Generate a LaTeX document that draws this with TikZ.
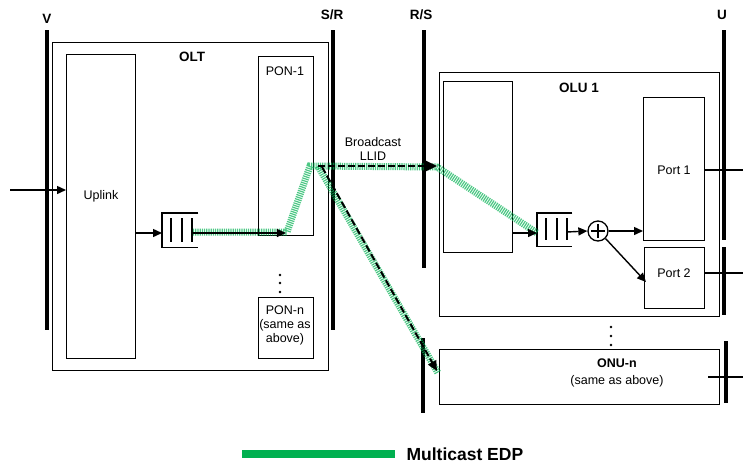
\documentclass[tikz,border=0pt]{standalone}
\usepackage{fontspec}
\setmainfont{Liberation Sans}
\usetikzlibrary{arrows.meta}
\definecolor{edpgreen}{RGB}{0,176,80}
\begin{document}
\begin{tikzpicture}[x=1pt,y=-1pt,font=\fontsize{12.5}{14}\selectfont,
  box/.style={draw,line width=0.9pt,inner sep=0pt,anchor=north west},
  bar/.style={line width=4pt},
  arr/.style={-{Triangle[length=9pt,width=8pt]},line width=1.4pt},
  dasharr/.style={line width=2pt,dash pattern=on 7pt off 3pt},
  edp/.style={draw=edpgreen,line width=7pt,opacity=0.7,dash pattern=on 1.2pt off 1pt},
  lbl/.style={font=\fontsize{13.5}{15}\selectfont\bfseries},
  dotmark/.style={fill=black,circle,inner sep=0pt,minimum size=2.6pt}]
\useasboundingbox (0,0) rectangle (743,464);

% reference bars
\draw[bar] (47,30) -- (47,330);
\node[lbl] (vlab) at (47,19) {V};
\draw[bar] (333,30) -- (333,330);
\node[lbl] (srlab) at (332,15) {S/R};
\draw[bar] (424,30) -- (424,268);
\node[lbl] (rslab) at (421,15) {R/S};
\draw[bar] (724,30) -- (724,240);
\draw[bar] (724,247) -- (724,315);
\draw[bar] (726,341) -- (726,403);
\node[lbl] (ulab) at (722,15) {U};
\draw[bar] (423,338) -- (423,413);

% OLT
\node[box,minimum width=276pt,minimum height=328pt] (olt) at (52,42) {};
\node[lbl] (oltlab) at (192,57) {OLT};
\node[box,minimum width=69pt,minimum height=304pt] (uplink) at (66,54) {};
\node (uplab) at (101,196) {Uplink};
\node[box,minimum width=55pt,minimum height=179pt] (pon1) at (258,56) {};
\node (pon1lab) at (285,71) {PON-1};
\node[box,minimum width=55pt,minimum height=61pt,align=center] (ponn) at (258,297) {};
\node[align=center,font=\fontsize{12.5}{14}\selectfont] (ponnlab) at (285,325) {PON-n\\(same as\\above)};
\node[dotmark] (d1) at (280,275) {};
\node[dotmark] (d2) at (280,283) {};
\node[dotmark] (d3) at (280,292) {};

% OLT queue
\node[inner sep=0pt,minimum width=36pt,minimum height=34pt,anchor=north west] (q1) at (162,213) {};
\draw[line width=1.1pt] (q1.north east) -- (q1.north west) -- (q1.south west) -- (q1.south east);
\draw[line width=1.5pt] (171,218) -- (171,242) (182,218) -- (182,242) (192,218) -- (192,242);

% OLU 1
\node[box,minimum width=280pt,minimum height=244pt] (olu) at (439,72) {};
\node[lbl] (olulab) at (579,88) {OLU 1};
\node[box,minimum width=69pt,minimum height=171pt] (olin) at (443,81) {};
\node[box,minimum width=61pt,minimum height=143pt] (port1) at (643,97) {};
\node (p1lab) at (674,170) {Port 1};
\node[box,minimum width=60pt,minimum height=61pt] (port2) at (644,247) {};
\node (p2lab) at (674,273) {Port 2};
\node[inner sep=0pt,minimum width=35pt,minimum height=33pt,anchor=north west] (q2) at (537,213) {};
\draw[line width=1.1pt] (q2.north east) -- (q2.north west) -- (q2.south west) -- (q2.south east);
\draw[line width=1.5pt] (546,218) -- (546,240) (557,218) -- (557,240) (567,218) -- (567,240);
\node[draw,circle,line width=1.3pt,minimum size=20pt,inner sep=0pt] (sum) at (598,231) {};
\draw[line width=1.3pt] (591,231) -- (605,231) (598,224) -- (598,238);

% ONU-n
\node[box,minimum width=280pt,minimum height=55pt] (onun) at (439,349) {};
\node[lbl,font=\fontsize{12.5}{14}\selectfont\bfseries] (onulab) at (617,363) {ONU-n};
\node (onusub) at (617,381) {(same as above)};
\node[dotmark] (e1) at (611,327) {};
\node[dotmark] (e2) at (611,336) {};
\node[dotmark] (e3) at (611,345) {};

% port lines
\coordinate (p1end) at (743,170);
\coordinate (p2end) at (743,273);
\coordinate (onend) at (743,377);
\draw[line width=1.3pt] (port1.east |- p1end) -- (p1end);
\draw[line width=1.3pt] (port2.east |- p2end) -- (p2end);
\draw[line width=1.3pt] (708,377) -- (onend);

% multicast EDP band
\coordinate (g0) at (193,232);
\coordinate (g1) at (287,232);
\coordinate (g2) at (310,166);
\coordinate (g3) at (437,167);
\coordinate (g4) at (537,233);
\coordinate (g5) at (318,166);
\coordinate (g6) at (438,373);
\draw[edp] (g0) -- (g1) -- (g2) -- (g3) -- (g4);
\draw[edp] (g5) -- (g6);

% arrows
\coordinate (inpt) at (10,190);
\draw[arr] (inpt) -- (uplink.west |- inpt);
\draw[arr] (uplink.east |- 0,233) -- (q1.west |- 0,233);
\draw[arr] (192,233) -- (pon1.center |- 0,233);
\draw[arr] (olin.east |- 0,233) -- (q2.west |- 0,233);
\draw[arr] (567,232) -- (sum.west);
\draw[arr] (sum.east) -- (port1.west |- sum.east);
\draw[arr] (sum.south east) -- (646,282);

\coordinate (bstart) at (318,166);
\coordinate (bend) at (437,166);
\draw[dasharr] (bstart) -- (424,166);
\draw[-{Triangle[length=13pt,width=12pt]},line width=2pt] (424,166) -- (bend);
\coordinate (dstart) at (322,167);
\coordinate (dend) at (437,371);
\draw[dasharr,-{Triangle[length=10pt,width=9pt]}] (dstart) -- (dend);
\node[align=center] (bcast) at (373,149) {Broadcast\\LLID};

% legend
\node[fill=edpgreen,inner sep=0pt,minimum width=153pt,minimum height=8.5pt,anchor=west] (legbar) at (242,454) {};
\node[anchor=west,font=\fontsize{17.5}{20}\selectfont\bfseries] (legtext) at (403,454) {Multicast EDP};
\end{tikzpicture}
\end{document}
